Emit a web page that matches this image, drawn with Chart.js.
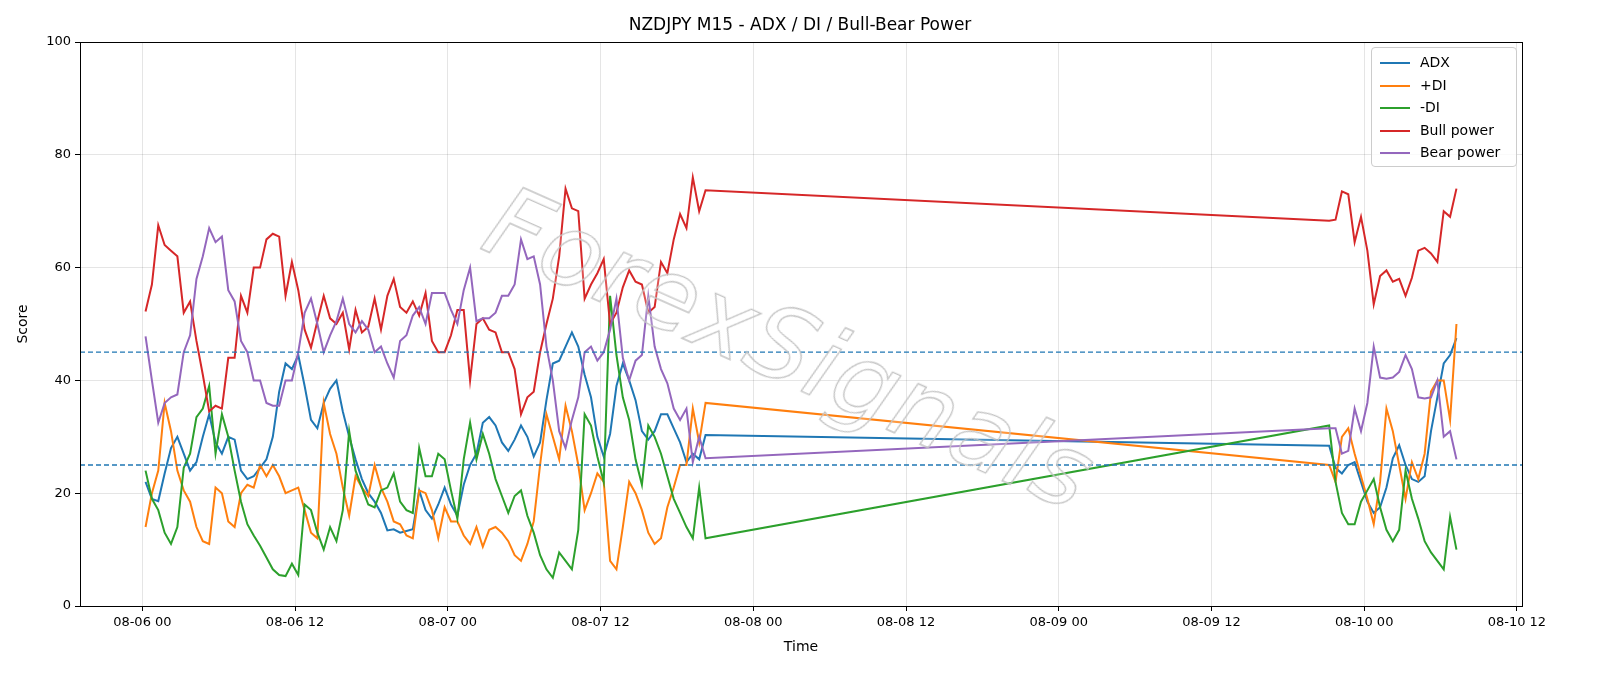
<!DOCTYPE html>
<html><head><meta charset="utf-8">
<script src="https://cdn.jsdelivr.net/npm/chart.js@4.4.0/dist/chart.umd.min.js"></script>
<style>
html,body{margin:0;padding:0;background:#fff;width:1600px;height:686px;overflow:hidden;font-family:"DejaVu Sans",sans-serif;}
#wrap{position:relative;width:1600px;height:686px;}
#title{position:absolute;left:0;width:1600px;top:14px;text-align:center;font-size:17px;color:#000;}
#legend{position:absolute;left:1371px;top:47px;width:144px;height:118px;border:1px solid #ccc;border-radius:4px;background:rgba(255,255,255,0.8);font-size:14px;}
#legend div{position:relative;height:22.5px;line-height:20px;padding-left:48px;}
#legend div span{position:absolute;left:8px;top:10px;width:30px;height:2px;}
#wm{position:absolute;left:430px;top:290px;width:720px;text-align:center;font-size:100px;font-style:italic;color:rgba(255,255,255,0.2);-webkit-text-stroke:1.3px #c4c4c4;transform:rotate(24deg);pointer-events:none;font-family:"DejaVu Sans",sans-serif;letter-spacing:1px;}
</style></head>
<body><div id="wrap">
<canvas id="c" width="1600" height="686"></canvas>
<div id="title">NZDJPY M15 - ADX / DI / Bull-Bear Power</div>
<div id="wm">ForexSignals</div>
<div id="legend">
<div style="margin-top:4px"><span style="background:#1f77b4"></span>ADX</div>
<div><span style="background:#ff7f0e"></span>+DI</div>
<div><span style="background:#2ca02c"></span>-DI</div>
<div><span style="background:#d62728"></span>Bull power</div>
<div><span style="background:#9467bd"></span>Bear power</div>
</div>
</div>
<script>
// hours since 08-06 00:00 (30-minute sampling of two sessions)
const seg1Start = 0.25, seg1Count = 89, seg2Start = 93.25, seg2Count = 21;
const hours = [];
for (let i = 0; i < seg1Count; i++) hours.push(seg1Start + 0.5 * i);
for (let i = 0; i < seg2Count; i++) hours.push(seg2Start + 0.5 * i);

const adx = [22,19,18.6,23.5,28,30,27,24,25.5,30,34,29,27,30,29.5,24,22.5,23,
24.5,26,30,38,43,42,44.5,39,33,31.5,36,38.5,40,34.5,30,26,22.5,20,18.5,16.5,13.4,13.6,13,13.3,
13.6,20.5,17,15.5,18,21,18,16,21.5,25,27,32.5,33.5,32,29,27.5,29.5,32,30,26.5,29,36.5,43,43.5,
46,48.5,46,41,37,30,26.5,30.5,39,43,40,36.5,31,29.5,31,34,34,31.5,29,25.5,27,26,30.3,
28.4,24.5,23.5,25,25.5,22,18.5,16.5,17.5,21,26.2,28.5,25,22.5,22,23,31,37,43,44.5,47.5];
const plusDI = [14,20,24,36,31,24,20.5,18.5,14,11.5,11,21,20,15,14,20,21.5,21,
25,23,25,23,20,20.5,21,17,13,12,36,30.5,27,21,16,23,21,19.5,25,21,18.5,15,14.5,12.5,
12,20.5,20,17,12,17.5,15,15,12.5,11,14,10.5,13.5,14,13,11.5,9,8,11,15,25,34,30,26,
35.5,31,25,17,20,23.5,22,8,6.5,14,22,20,17,13,11,12,17.5,21,25,25,35,29,36,
25,22,30,31.5,27,23,19,14.5,22,35,31,25,19,25.5,22.5,27,38,40,40,33,50];
const minusDI = [24,19,17,13,11,14,24.5,27,33.5,35,39,27,34,30,24,18.5,14.5,12.5,
10.7,8.6,6.5,5.5,5.3,7.5,5.5,18,17,13,10,14,11.5,17,31,24,21,18,17.5,20.5,21,23.5,18.5,17,
16.5,28,23,23,27,26,20.5,15.5,26,32.5,26,30.5,27,22.5,19.5,16.5,19.5,20.5,16,13,9,6.5,5,9.5,
8,6.5,13.5,34,32,26.5,22,55,44.5,37,33,26,21.5,32,30,27,23,19,16.5,14,12,21,12,
32,22,16.5,14.5,14.5,18.5,20.5,22.5,17.5,13.5,11.5,13.5,24,19,15.5,11.5,9.5,8,6.5,15.8,10];
const bullPower = [52.2,57,67.5,64,63,62,52,54,47,41,34.5,35.5,35,44,44,55,52,60,
60,65,66,65.5,55,61,56,49,45.8,50.5,55,51,50,52,45.5,52.5,48.5,49.5,54.5,49,55,58,53,52,
54,51.5,55.5,47,45,45,48,52.5,52.5,40,50,51,49,48.5,45,45,42,34,37,38,45,50,54.5,62,
74,70.5,70,54.5,57,59,61.5,50,52,56.5,59.5,57.5,57,52,53,61,59,65,69.5,67,76,70,73.7,
68.3,68.5,73.5,73,64.5,69,63,53.5,58.5,59.5,57.5,58,55,58.2,63,63.5,62.5,61,70,69,74];
const bearPower = [47.8,40,32.5,36,37,37.5,45,48,58,62,67,64.5,65.5,56,54,47,45,40,
40,36,35.5,35.5,40,40,45,52,54.5,50,45,48,50.5,54.5,50,48.5,50.5,49,45,46,43,40.5,47,48,
51.5,53,50,55.5,55.5,55.5,52.5,50,56,60,50.5,51,51,52,55,55,57,65,61.5,62,57,46,40,31,
28,33,37,45,46,43.5,45,49,54.5,44,40,43.5,44.5,55,46,42,39.5,35,33,35,25.5,30,26.2,
31.5,31.5,27,27.5,35,31,36,46,40.5,40.3,40.5,41.5,44.5,42,37,36.8,37,40,30,31,26];
const thresholds = [45, 25];
const xTicks = [0,12,24,36,48,60,72,84,96,108];
const xTickLabels = ["08-06 00","08-06 12","08-07 00","08-07 12","08-08 00","08-08 12","08-09 00","08-09 12","08-10 00","08-10 12"];
const xMin = -4.9, xMax = 108.4;

const pts = arr => arr.map((v,i)=>({x:hours[i], y:v}));
const line = (label, data, color, order) => ({label, data: pts(data), borderColor: color, borderWidth: 2, pointRadius: 0, tension: 0, fill: false, order});
const datasets = [
  line('ADX', adx, '#1f77b4', 5),
  line('+DI', plusDI, '#ff7f0e', 4),
  line('-DI', minusDI, '#2ca02c', 3),
  line('Bull power', bullPower, '#d62728', 2),
  line('Bear power', bearPower, '#9467bd', 1),
];
thresholds.forEach(t => datasets.push({label:'th'+t, data:[{x:xMin,y:t},{x:xMax,y:t}], borderColor:'#1f77b4', borderWidth:1.3, borderDash:[5,3], pointRadius:0, order:0}));

const frame = {id:'frame', afterDraw(c){const a=c.chartArea, x=c.ctx; x.save(); x.strokeStyle='#000'; x.lineWidth=1; x.strokeRect(a.left+0.5,a.top+0.5,a.right-a.left,a.bottom-a.top); x.restore();}};

new Chart(document.getElementById('c'), {
  type: 'line',
  data: {datasets},
  plugins: [frame],
  options: {
    responsive: false, animation: false, devicePixelRatio: 1,
    layout: {padding: {left: 15, right: 78, top: 42, bottom: 30}},
    plugins: {legend: {display: false}, title: {display: false}, tooltip: {enabled: false}},
    scales: {
      x: {type: 'linear', min: xMin, max: xMax,
        afterFit: s => { s.height = 50; },
        afterBuildTicks: s => { s.ticks = xTicks.map(v => ({value: v})); },
        ticks: {callback: v => xTickLabels[xTicks.indexOf(v)] ?? '', color: '#000', font: {family: 'DejaVu Sans', size: 13}, maxRotation: 0, autoSkip: false, padding: 4},
        grid: {color: 'rgba(0,0,0,0.1)', tickColor: '#000', tickLength: 5},
        border: {color: '#000'},
        title: {display: true, text: 'Time', color: '#000', font: {family: 'DejaVu Sans', size: 14}, padding: {top: 2, bottom: 0}}
      },
      y: {min: 0, max: 100,
        afterFit: s => { s.width = 65; },
        ticks: {stepSize: 20, color: '#000', font: {family: 'DejaVu Sans', size: 13}, padding: 4},
        grid: {color: 'rgba(0,0,0,0.1)', tickColor: '#000', tickLength: 5},
        border: {color: '#000'},
        title: {display: true, text: 'Score', color: '#000', font: {family: 'DejaVu Sans', size: 14}, padding: {top: 0, bottom: 4}}
      }
    }
  }
});
</script>
</body></html>
